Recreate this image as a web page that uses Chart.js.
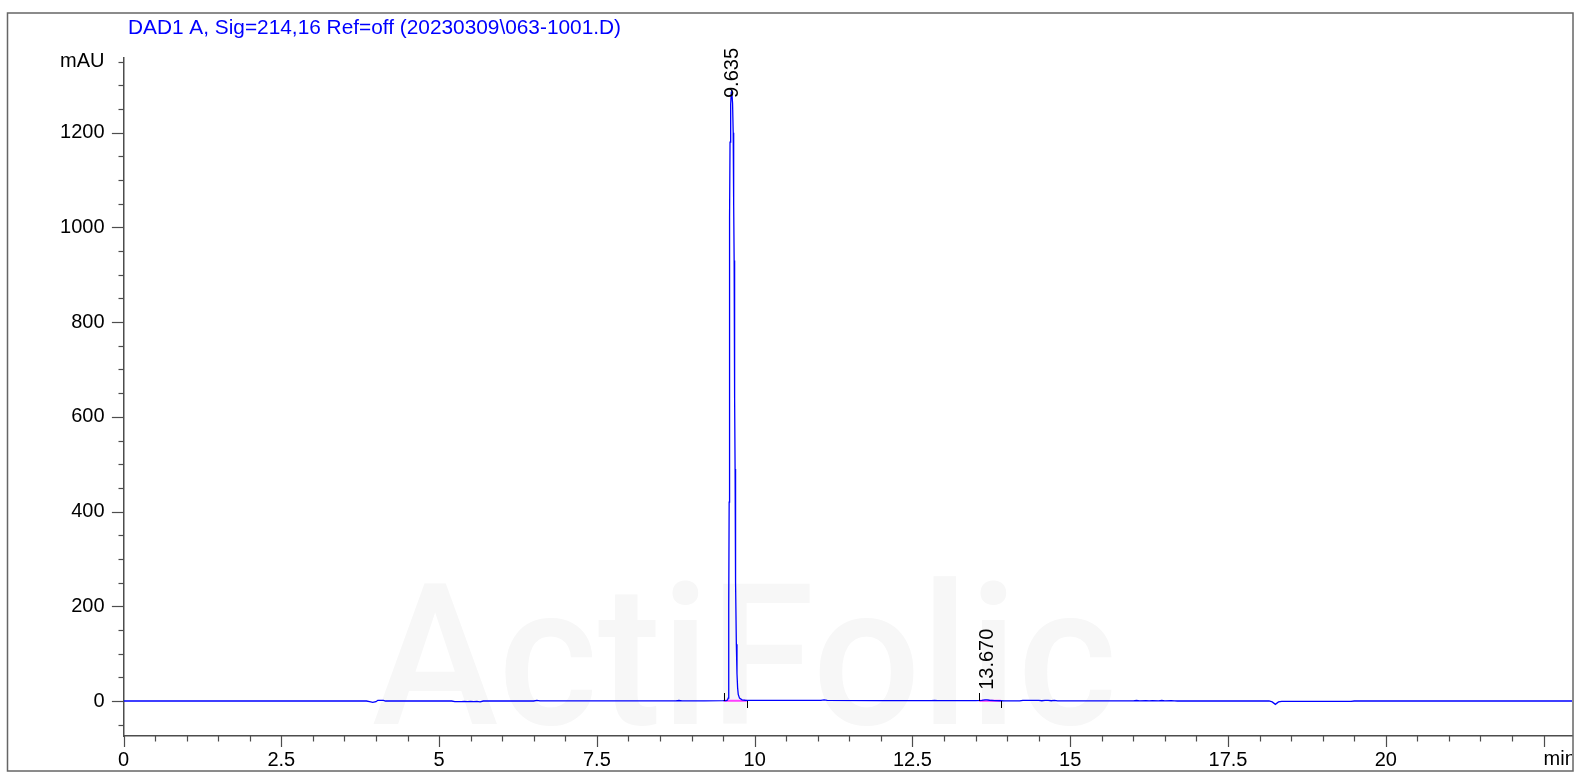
<!DOCTYPE html>
<html><head><meta charset="utf-8">
<script src="https://cdn.jsdelivr.net/npm/chart.js@4/dist/chart.umd.min.js"></script>
<style>html,body{margin:0;padding:0;background:#fff;}canvas{display:block;}</style>
</head><body>
<canvas id="c" width="1576" height="783" style="width:1576px;height:783px"></canvas>
<script>
// ---- data ----
const titleText = 'DAD1 A, Sig=214,16 Ref=off (20230309\\063-1001.D)';
const watermarkText = 'ActiFolic';
const times = [0, 3.85, 3.9, 3.95, 4.0, 4.03, 4.12, 4.15,
  5.2, 5.25, 5.35, 5.4, 5.45, 5.5, 5.55, 5.6, 5.65, 5.7,
  6.5, 6.55, 6.6, 8.75, 8.8, 8.85, 9.2, 9.5,
  9.55, 9.57, 9.58, 9.585, 9.59, 9.593, 9.596, 9.6, 9.605, 9.61, 9.62, 9.63, 9.635, 9.64, 9.65, 9.66, 9.665, 9.67, 9.675, 9.68, 9.685, 9.69, 9.695, 9.7, 9.71, 9.72, 9.73, 9.74, 9.76, 9.8, 9.85, 9.95,
  10.5, 11.05, 11.1, 11.15, 12.0, 12.8, 12.85, 12.9,
  13.5, 13.6, 13.65, 13.68, 13.72, 13.8, 13.9, 13.95,
  14.2, 14.25, 14.5, 14.55, 14.6, 14.65, 14.7, 14.75, 14.8, 15.5,
  16.0, 16.05, 16.1, 16.2, 16.25, 16.3, 16.4, 16.45, 16.5, 16.6, 16.65, 16.7,
  18.15, 18.2, 18.25, 18.3, 18.35, 19.45, 19.5, 22.95];
const signal = [0, 0, -1.5, -3, -1.5, 1.5, 1.5, 0,
  0, -1.5, -1.5, -0.8, -1.5, -0.8, -1.5, -1, -1.8, 0,
  0, 1.5, 0.2, 0.2, 1, 0.3, 0.4, 0.6,
  1, 2, 6, 20, 70, 200, 420, 750, 1020, 1180, 1260, 1285, 1290, 1287, 1262, 1200, 1140, 1050, 930, 790, 640, 490, 360, 250, 120, 58, 28, 14, 6, 2.5, 1.6, 1.2,
  1.2, 1.2, 2.3, 1.2, 1, 0.6, 1.4, 0.8,
  1, 1.2, 2.2, 2.4, 1.6, 1, 0.5, 0.2,
  0.3, 1.5, 1.5, 0.5, 1.5, 1.5, 0.5, 1.2, 0.3, 0.2,
  0.2, 1, 0.3, 1, 0.3, 1, 0.3, 1, 0.3, 1, 0.3, 0,
  0, -2, -7, -2, -1, -1, 0, 0];
const peakTimes = [9.635, 13.670];
const peakLabels = ['9.635', '13.670'];
const peakApex = [1290, 2.4];
const peakStart = [9.51, 13.56];
const peakEnd = [9.875, 13.90];
const xMajorTicks = [0, 2.5, 5, 7.5, 10, 12.5, 15, 17.5, 20, 22.5];
const xTickLabels = ['0', '2.5', '5', '7.5', '10', '12.5', '15', '17.5', '20', ''];
const xUnitLabel = 'min';
const yTicks = [0, 200, 400, 600, 800, 1000, 1200, 1350];
const yTickLabels = ['0', '200', '400', '600', '800', '1000', '1200', 'mAU'];
const xMin = 0, xMax = 22.95, yMin = -73.9, yMax = 1357.7;
const xMinorStep = 0.5, yMinorStep = 50;

if (times.length !== signal.length) console.error('length mismatch', times.length, signal.length);

const FONT = "'Liberation Sans', Arial, sans-serif";

const deco = {
  id: 'deco',
  beforeDatasetsDraw(chart) {
    const {ctx, chartArea: a, scales: {x, y}} = chart;
    ctx.save();
    // watermark
    ctx.fillStyle = '#f7f7f7';
    ctx.font = "500 196px Roboto, 'Liberation Sans', sans-serif";
    ctx.textAlign = 'left';
    ctx.textBaseline = 'alphabetic';
    const ww = ctx.measureText(watermarkText).width;
    ctx.save();
    ctx.translate(372, y.getPixelForValue(-49));
    ctx.scale(745 / ww, 1);
    ctx.fillText(watermarkText, 0, 0);
    ctx.restore();
    // integration baselines
    ctx.strokeStyle = '#ff40ff';
    ctx.lineWidth = 2;
    for (let i = 0; i < peakStart.length; i++) {
      ctx.beginPath();
      ctx.moveTo(x.getPixelForValue(peakStart[i]), y.getPixelForValue(0.5));
      ctx.lineTo(x.getPixelForValue(peakEnd[i]), y.getPixelForValue(0.5));
      ctx.stroke();
    }
    ctx.restore();
  },
  afterDatasetsDraw(chart) {
    const {ctx, scales: {x, y}} = chart;
    ctx.save();
    // peak start/end markers
    ctx.strokeStyle = '#000';
    ctx.lineWidth = 1;
    const y0 = y.getPixelForValue(0);
    for (let i = 0; i < peakStart.length; i++) {
      const xs = Math.round(x.getPixelForValue(peakStart[i])) + 0.5;
      const xe = Math.round(x.getPixelForValue(peakEnd[i])) + 0.5;
      ctx.beginPath(); ctx.moveTo(xs, y0); ctx.lineTo(xs, y0 - 8); ctx.stroke();
      ctx.beginPath(); ctx.moveTo(xe, y0); ctx.lineTo(xe, y0 + 7); ctx.stroke();
    }
    // peak labels (rotated)
    ctx.fillStyle = '#000';
    ctx.font = '20px ' + FONT;
    ctx.textAlign = 'left';
    ctx.textBaseline = 'middle';
    for (let i = 0; i < peakTimes.length; i++) {
      const px = x.getPixelForValue(peakTimes[i]);
      const w = ctx.measureText(peakLabels[i]).width;
      let start = y.getPixelForValue(peakApex[i]) - 10;
      if (start - w < 48) start = 48 + w;
      ctx.save();
      ctx.translate(px + 1, start);
      ctx.rotate(-Math.PI / 2);
      ctx.fillText(peakLabels[i], 0, 0);
      ctx.restore();
    }
    ctx.restore();
  },
  afterDraw(chart) {
    const {ctx, chartArea: a, scales: {x, y}} = chart;
    ctx.save();
    ctx.strokeStyle = '#4d4d4d';
    ctx.lineWidth = 1.2;
    // x ticks
    for (let v = xMin; v <= xMax + 1e-9; v += xMinorStep) {
      const major = xMajorTicks.some(t => Math.abs(t - v) < 1e-6);
      const px = Math.round(x.getPixelForValue(v)) + 0.5;
      ctx.beginPath(); ctx.moveTo(px, a.bottom); ctx.lineTo(px, a.bottom + (major ? 11 : 5.5)); ctx.stroke();
    }
    // y ticks
    for (let v = -50; v <= yMax; v += yMinorStep) {
      const major = (v % 200 === 0);
      const py = Math.round(y.getPixelForValue(v)) + 0.5;
      ctx.beginPath(); ctx.moveTo(a.left, py); ctx.lineTo(a.left - (major ? 11.6 : 5), py); ctx.stroke();
    }
    // unit label "min"
    ctx.save();
    ctx.beginPath(); ctx.rect(0, 0, 1572, 783); ctx.clip();
    ctx.fillStyle = '#000';
    ctx.font = '20px ' + FONT;
    ctx.textAlign = 'left';
    ctx.textBaseline = 'middle';
    ctx.fillText(xUnitLabel, x.getPixelForValue(22.5), 759);
    ctx.restore();
    // title
    ctx.fillStyle = '#0000ff';
    ctx.font = '21px ' + FONT;
    ctx.textAlign = 'left';
    ctx.textBaseline = 'middle';
    const tw = ctx.measureText(titleText).width;
    ctx.save();
    ctx.translate(128, 28);
    ctx.scale(493 / tw, 1);
    ctx.fillText(titleText, 0, 0);
    ctx.restore();
    // frame
    ctx.strokeStyle = '#666';
    ctx.lineWidth = 1.5;
    ctx.strokeRect(7.5, 13, 1565.5, 758);
    ctx.restore();
  }
};

new Chart(document.getElementById('c'), {
  type: 'line',
  data: {
    datasets: [{
      data: times.map((t, i) => ({x: t, y: signal[i]})),
      borderColor: '#0000ff',
      borderWidth: 1.3,
      pointRadius: 0,
      tension: 0,
      fill: false
    }]
  },
  options: {
    responsive: false,
    animation: false,
    layout: {padding: {left: 0, top: 58, right: 4, bottom: 0}},
    plugins: {legend: {display: false}, tooltip: {enabled: false}, title: {display: false}},
    scales: {
      x: {
        type: 'linear', min: xMin, max: xMax,
        afterBuildTicks: s => { s.ticks = xMajorTicks.map(v => ({value: v})); },
        afterFit: s => { s.height = 47; },
        grid: {display: true, drawOnChartArea: false, drawTicks: true, tickLength: 11, color: 'rgba(0,0,0,0)'},
        border: {display: true, color: '#4d4d4d', width: 1.5},
        ticks: {
          font: {family: FONT, size: 20}, color: '#000', padding: 1,
          maxRotation: 0, autoSkip: false,
          callback: v => { const i = xMajorTicks.findIndex(t => Math.abs(t - v) < 1e-6); return i >= 0 ? xTickLabels[i] : ''; }
        }
      },
      y: {
        type: 'linear', min: yMin, max: yMax,
        afterBuildTicks: s => { s.ticks = yTicks.map(v => ({value: v})); },
        afterFit: s => { s.width = 123.5; },
        grid: {display: true, drawOnChartArea: false, drawTicks: true, tickLength: 12, color: 'rgba(0,0,0,0)'},
        border: {display: true, color: '#4d4d4d', width: 1.5},
        ticks: {
          font: {family: FONT, size: 20}, color: '#000', padding: 7, autoSkip: false,
          callback: v => { const i = yTicks.indexOf(v); return i >= 0 ? yTickLabels[i] : ''; }
        }
      }
    }
  },
  plugins: [deco]
});
</script>
</body></html>
